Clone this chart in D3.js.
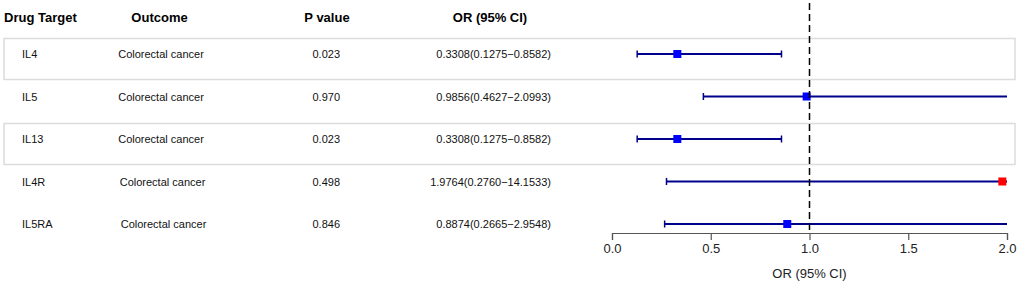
<!DOCTYPE html>
<html>
<head>
<meta charset="utf-8">
<script src="https://cdn.jsdelivr.net/npm/d3@7"></script>
<style>
  body { margin: 0; background: #fff; }
  svg { display: block; font-family: "Liberation Sans", Arial, sans-serif; }
</style>
</head>
<body>
<svg id="chart" width="1020" height="284"></svg>
<script>
// forest plot data
var targets = ["IL4", "IL5", "IL13", "IL4R", "IL5RA"]
var outcomes = ["Colorectal cancer", "Colorectal cancer", "Colorectal cancer", "Colorectal cancer", "Colorectal cancer"]
var pValues = ["0.023", "0.970", "0.023", "0.498", "0.846"]
var orText = ["0.3308(0.1275\u22120.8582)", "0.9856(0.4627\u22122.0993)", "0.3308(0.1275\u22120.8582)",
              "1.9764(0.2760\u221214.1533)", "0.8874(0.2665\u22122.9548)"]
var orValues = [0.3308, 0.9856, 0.3308, 1.9764, 0.8874]
var lowerCI = [0.1275, 0.4627, 0.1275, 0.2760, 0.2665]
var upperCI = [0.8582, 2.0993, 0.8582, 14.1533, 2.9548]
var pointColors = ["#0000ff", "#0000ff", "#0000ff", "#ff0000", "#0000ff"]
var headers = ["Drug Target", "Outcome", "P value", "OR (95% CI)"]
var xTicks = [0, 0.5, 1, 1.5, 2]

var svg = d3.select("#chart")

var x = d3.scaleLinear().domain([0, 2]).range([612, 1007])
var y = d3.scaleLinear().domain([0, 4]).range([54, 224])
var axisY = 233

var rows = targets.map(function(t, i) {
  return { target: t, outcome: outcomes[i], p: pValues[i], txt: orText[i],
           or: orValues[i], lo: lowerCI[i], hi: upperCI[i], color: pointColors[i], i: i }
})

// shaded boxes on alternate rows
svg.selectAll("rect.band")
  .data(rows.filter(function(d) { return d.i % 2 == 0 && d.i < 4 }))
  .enter().append("rect")
  .attr("class", "band")
  .attr("x", 4)
  .attr("y", function(d) { return y(d.i) - 15.5 })
  .attr("width", 1011)
  .attr("height", 41)
  .attr("fill", "#fff")
  .attr("stroke", "#dcdcdc")
  .attr("stroke-width", 1.5)

// headers
var headerX = [4, 159.5, 327, 490]
var headerAnchor = ["start", "middle", "middle", "middle"]
svg.selectAll("text.hdr")
  .data(headers)
  .enter().append("text")
  .attr("class", "hdr")
  .attr("x", function(d, i) { return headerX[i] })
  .attr("y", 22)
  .attr("text-anchor", function(d, i) { return headerAnchor[i] })
  .attr("font-size", 13)
  .attr("font-weight", "bold")
  .attr("fill", "#000")
  .text(function(d) { return d })

// table columns
var g = svg.selectAll("g.row").data(rows).enter().append("g").attr("class", "row")
  .attr("font-size", 11).attr("fill", "#111")

g.append("text").attr("x", 22).attr("y", function(d) { return y(d.i) + 4 })
  .text(function(d) { return d.target })
g.append("text").attr("x", function(d) { return d.i < 3 ? 161 : 162.5 + (d.i - 3) })
  .attr("y", function(d) { return y(d.i) + 4 })
  .attr("text-anchor", "middle")
  .text(function(d) { return d.outcome })
g.append("text").attr("x", 340).attr("y", function(d) { return y(d.i) + 4 })
  .attr("text-anchor", "end")
  .text(function(d) { return d.p })
g.append("text").attr("x", 551).attr("y", function(d) { return y(d.i) + 4 })
  .attr("text-anchor", "end")
  .text(function(d) { return d.txt })

// reference line at OR = 1
svg.append("line")
  .attr("x1", x(1)).attr("x2", x(1))
  .attr("y1", 3).attr("y2", axisY)
  .attr("stroke", "#000")
  .attr("stroke-width", 1.5)
  .attr("stroke-dasharray", "7,4")

// confidence intervals
var clip = function(v) { return Math.min(v, 2) }
g.append("line")
  .attr("x1", function(d) { return x(d.lo) })
  .attr("x2", function(d) { return x(clip(d.hi)) })
  .attr("y1", function(d) { return y(d.i) })
  .attr("y2", function(d) { return y(d.i) })
  .attr("stroke", "#00008b")
  .attr("stroke-width", 2)

g.append("line")
  .attr("x1", function(d) { return x(d.lo) })
  .attr("x2", function(d) { return x(d.lo) })
  .attr("y1", function(d) { return y(d.i) - 3.5 })
  .attr("y2", function(d) { return y(d.i) + 3.5 })
  .attr("stroke", "#00008b")
  .attr("stroke-width", 1.5)

g.filter(function(d) { return d.hi <= 2 }).append("line")
  .attr("x1", function(d) { return x(d.hi) })
  .attr("x2", function(d) { return x(d.hi) })
  .attr("y1", function(d) { return y(d.i) - 3.5 })
  .attr("y2", function(d) { return y(d.i) + 3.5 })
  .attr("stroke", "#00008b")
  .attr("stroke-width", 1.5)

g.append("rect")
  .attr("x", function(d) { return x(d.or) - 4 })
  .attr("y", function(d) { return y(d.i) - 4 })
  .attr("width", 8)
  .attr("height", 8)
  .attr("fill", function(d) { return d.color })

// x axis
var axis = svg.append("g")
  .attr("transform", "translate(0," + axisY + ")")
  .call(d3.axisBottom(x).tickValues(xTicks).tickFormat(d3.format(".1f")).tickSize(7).tickPadding(4))
axis.select(".domain").attr("stroke", "#555").attr("stroke-width", 1.2)
axis.selectAll(".tick line").attr("stroke", "#555").attr("stroke-width", 1.2)
axis.selectAll(".tick text").attr("font-size", 13).attr("fill", "#222")
  .attr("font-family", "Liberation Sans, Arial, sans-serif")

svg.append("text")
  .attr("x", x(1))
  .attr("y", 278)
  .attr("text-anchor", "middle")
  .attr("font-size", 13)
  .attr("fill", "#222")
  .text("OR (95% CI)")
</script>
</body>
</html>
